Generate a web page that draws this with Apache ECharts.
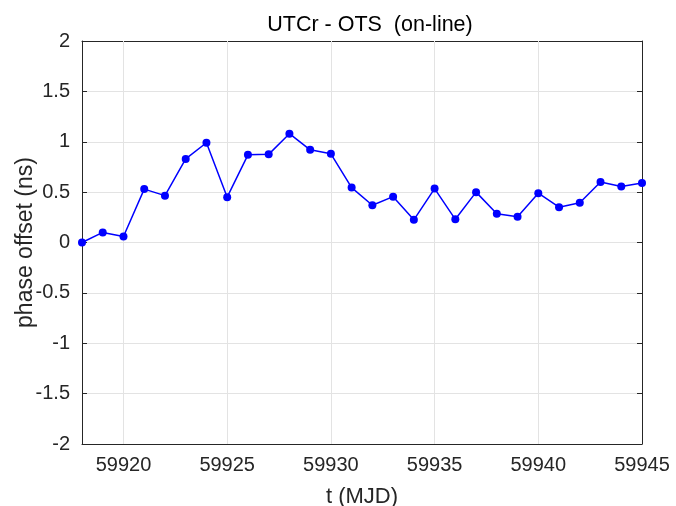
<!DOCTYPE html>
<html>
<head>
<meta charset="utf-8">
<script src="https://cdn.jsdelivr.net/npm/echarts@6/dist/echarts.min.js"></script>
<style>
  html, body { margin: 0; padding: 0; background: #fff; }
  #chart { width: 676px; height: 506px; }
</style>
</head>
<body>
<div id="chart"></div>
<script>
// MJD days and phase offsets (ns)
const mjd = [59918, 59919, 59920, 59921, 59922, 59923, 59924, 59925, 59926, 59927,
  59928, 59929, 59930, 59931, 59932, 59933, 59934, 59935, 59936, 59937,
  59938, 59939, 59940, 59941, 59942, 59943, 59944, 59945];
const offset = [0.0, 0.10, 0.06, 0.53, 0.465, 0.83, 0.99, 0.45, 0.87, 0.875,
  1.08, 0.92, 0.88, 0.545, 0.37, 0.455, 0.225, 0.535, 0.23, 0.50,
  0.285, 0.255, 0.49, 0.35, 0.395, 0.60, 0.555, 0.59];
const xTicks = [59920, 59925, 59930, 59935, 59940, 59945];

const axisColor = "#262626";
const gridColor = "#e3e3e3";
const font = "Liberation Sans, Arial, sans-serif";

const points = mjd.map((d, i) => [d, offset[i]]);

const chart = echarts.init(document.getElementById("chart"));
chart.setOption({
  animation: false,
  backgroundColor: "#fff",
  textStyle: { fontFamily: font },
  title: {
    text: "UTCr - OTS  (on-line)",
    left: 365,
    textAlign: "center",
    top: 9,
    textStyle: { fontSize: 21.5, fontWeight: "normal", color: "#000", fontFamily: font },
  },
  grid: { left: 82, right: 34, top: 41, bottom: 62, outerBoundsMode: "none", containLabel: false },
  xAxis: [
    {
      type: "value",
      min: 59918,
      max: 59945,
      name: "t (MJD)",
      nameLocation: "middle",
      nameGap: 42,
      nameMoveOverlap: false,
      nameTextStyle: { fontSize: 22, color: axisColor },
      axisLine: { show: true, onZero: false, lineStyle: { color: axisColor, width: 1 } },
      axisTick: { show: true, inside: true, length: 5, customValues: xTicks, lineStyle: { color: axisColor } },
      axisLabel: {
        customValues: xTicks,
        fontSize: 20,
        color: axisColor,
        margin: 11,
        formatter: (v) => String(v),
      },
      splitLine: { show: false },
    },
    {
      type: "value",
      position: "top",
      min: 59918,
      max: 59945,
      axisLine: { show: true, onZero: false, lineStyle: { color: axisColor, width: 1 } },
      axisTick: { show: true, inside: true, length: 5, customValues: xTicks, lineStyle: { color: axisColor } },
      axisLabel: { show: false },
      splitLine: { show: false },
    },
  ],
  yAxis: [
    {
      type: "value",
      min: -2,
      max: 2,
      interval: 0.5,
      name: "phase offset (ns)",
      nameLocation: "middle",
      nameGap: 45,
      nameMoveOverlap: false,
      nameTextStyle: { fontSize: 23, color: axisColor },
      axisLine: { show: true, onZero: false, lineStyle: { color: axisColor, width: 1 } },
      axisTick: { show: true, inside: true, length: 5, lineStyle: { color: axisColor } },
      axisLabel: { fontSize: 20, color: axisColor, margin: 12 },
      splitLine: { show: true, lineStyle: { color: gridColor, width: 1 } },
    },
    {
      type: "value",
      position: "right",
      min: -2,
      max: 2,
      interval: 0.5,
      axisLine: { show: true, onZero: false, lineStyle: { color: axisColor, width: 1 } },
      axisTick: { show: true, inside: true, length: 5, lineStyle: { color: axisColor } },
      axisLabel: { show: false },
      splitLine: { show: false },
    },
  ],
  series: [
    {
      // vertical grid lines at the labelled days
      type: "line",
      data: points,
      symbol: "none",
      lineStyle: { opacity: 0 },
      silent: true,
      z: 1,
      markLine: {
        silent: true,
        z: 1,
        symbol: "none",
        label: { show: false },
        lineStyle: { color: gridColor, width: 1, type: "solid" },
        data: xTicks.slice(0, -1).map((v) => ({ xAxis: v })),
      },
    },
    {
      type: "line",
      data: points,
      symbol: "circle",
      symbolSize: 8,
      itemStyle: { color: "#0000ff" },
      lineStyle: { color: "#0000ff", width: 1.5 },
      z: 3,
    },
  ],
});
</script>
</body>
</html>
